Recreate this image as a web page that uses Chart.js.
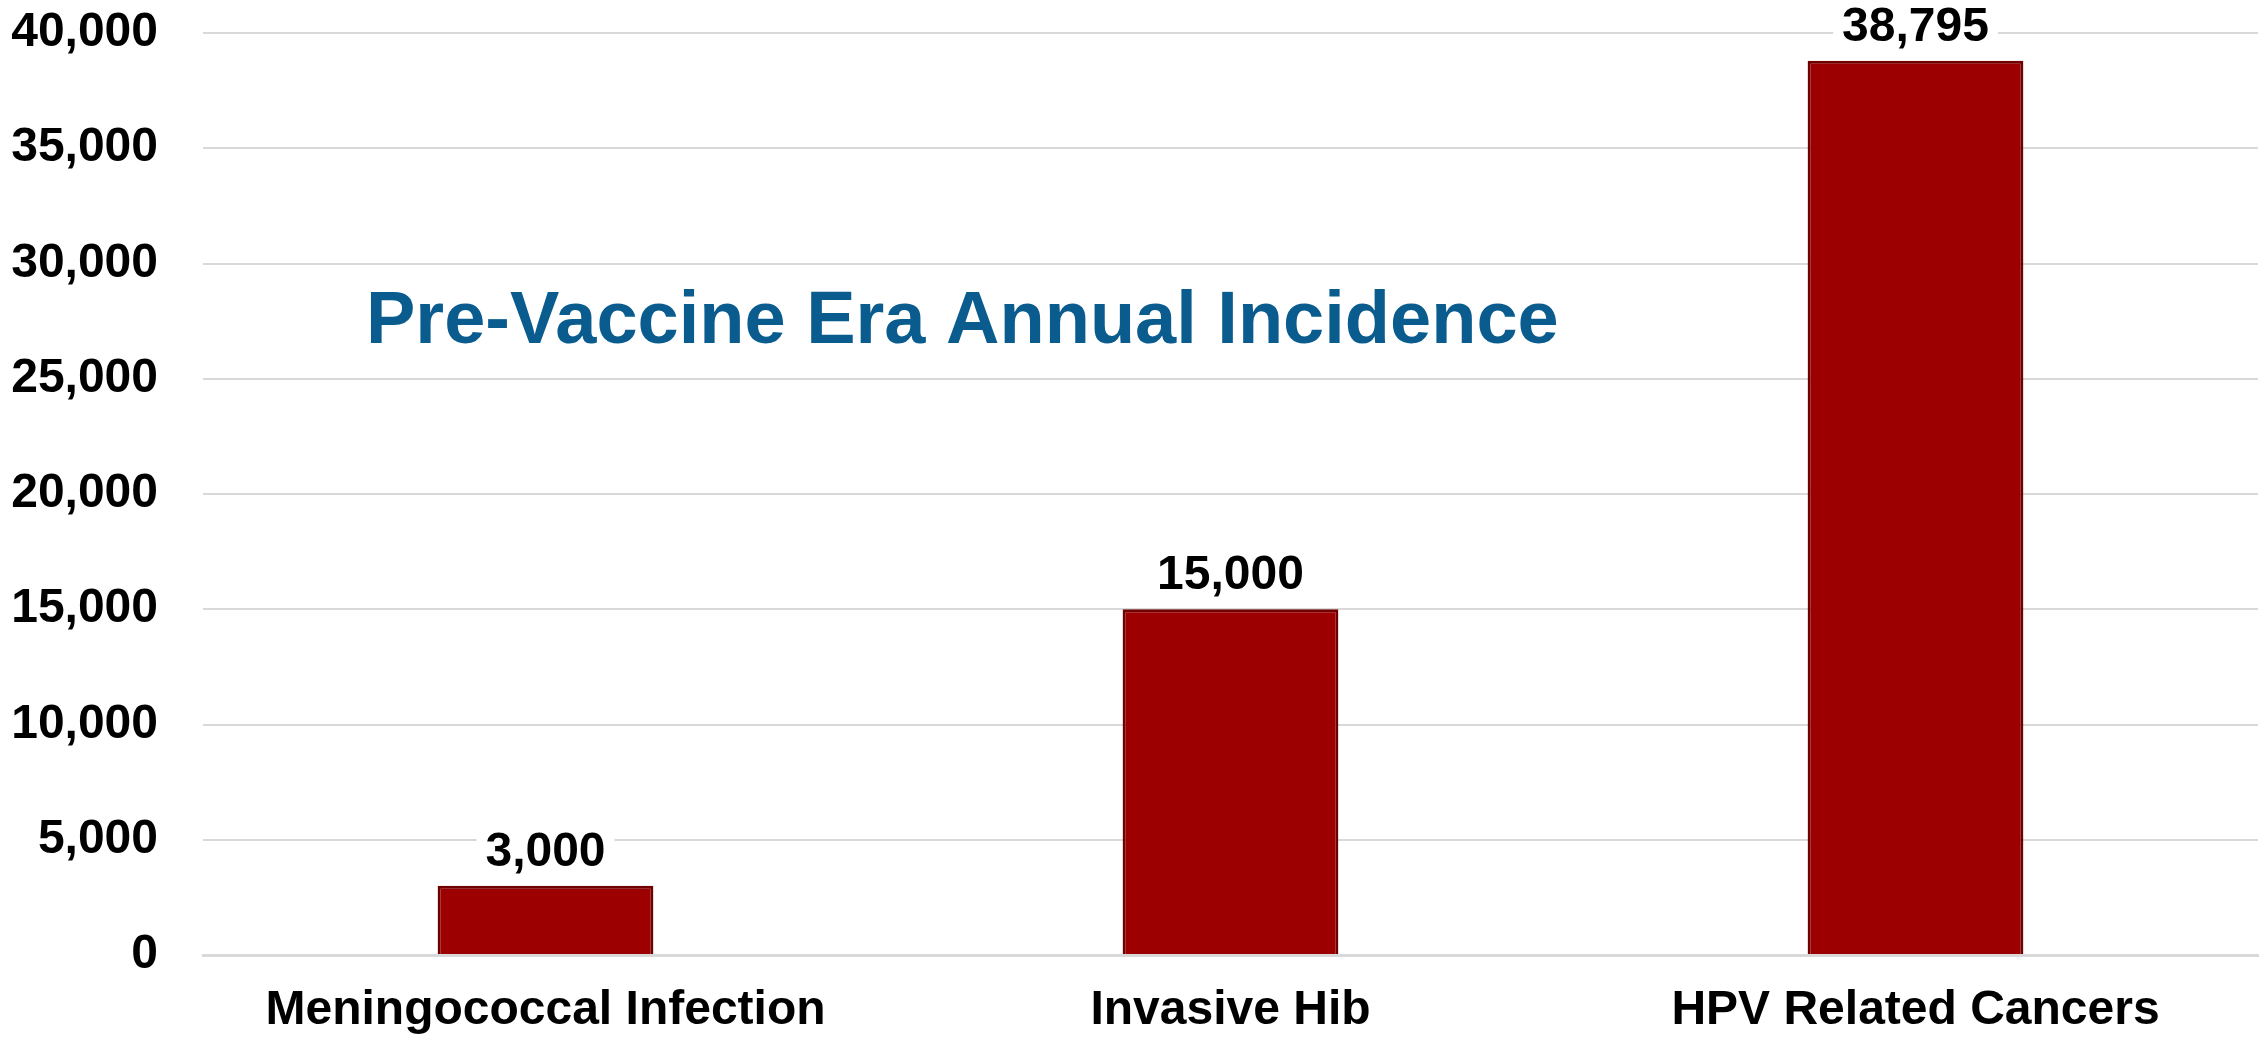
<!DOCTYPE html>
<html>
<head>
<meta charset="utf-8">
<script src="https://cdn.jsdelivr.net/npm/chart.js@4.4.1/dist/chart.umd.min.js"></script>
<style>
	html, body { margin: 0; padding: 0; background: #ffffff; overflow: hidden; }
	#myChart { display: block; }
</style>
</head>
<body>
<canvas id="myChart" width="2267" height="1037"></canvas>
<script>
// Dữ liệu biểu đồ
const categories = ['Meningococcal Infection', 'Invasive Hib', 'HPV Related Cancers'];
const incidence = [3000, 15000, 38795];
const yTicks = [0, 5000, 10000, 15000, 20000, 25000, 30000, 35000, 40000];
const chartTitle = 'Pre-Vaccine Era Annual Incidence';

const FONT = '"Liberation Sans", Arial, sans-serif';

// nhãn giá trị trên cột, có nền trắng che đường lưới
const valueLabels = {
	id: 'valueLabels',
	afterDatasetsDraw(chart) {
		const ctx = chart.ctx;
		const meta = chart.getDatasetMeta(0);
		ctx.save();
		ctx.font = 'bold 48px ' + FONT;
		ctx.textAlign = 'center';
		ctx.textBaseline = 'alphabetic';
		meta.data.forEach((bar, i) => {
			const text = incidence[i].toLocaleString('en-US');
			const w = ctx.measureText(text).width;
			const y = bar.y - 20;
			ctx.fillStyle = '#ffffff';
			ctx.fillRect(bar.x - w / 2 - 9, y - 40, w + 18, 52);
			ctx.fillStyle = '#000000';
			ctx.fillText(text, bar.x, y);
		});
		ctx.restore();
	}
};

// tiêu đề nằm trong vùng biểu đồ
const innerTitle = {
	id: 'innerTitle',
	afterDatasetsDraw(chart) {
		const ctx = chart.ctx;
		const area = chart.chartArea;
		ctx.save();
		ctx.font = 'bold 74px ' + FONT;
		ctx.fillStyle = '#0b5c8e';
		ctx.textAlign = 'left';
		ctx.textBaseline = 'alphabetic';
		ctx.fillText(chartTitle, area.left + 163, area.top + 310);
		ctx.restore();
	}
};

const ctx = document.getElementById('myChart').getContext('2d');
new Chart(ctx, {
	type: 'bar',
	data: {
		labels: categories,
		datasets: [{
			data: incidence,
			backgroundColor: '#9c0000',
			borderColor: '#700000',
			borderWidth: 3,
			borderSkipped: 'bottom',
			categoryPercentage: 1,
			barPercentage: 0.315,
		}],
	},
	options: {
		responsive: false,
		animation: false,
		devicePixelRatio: 1,
		layout: { padding: { top: 33, right: 9, left: 0, bottom: 0 } },
		plugins: {
			legend: { display: false },
			tooltip: { enabled: false },
			title: { display: false },
		},
		scales: {
			x: {
				grid: { display: false, drawTicks: false },
				border: { display: true, color: '#d9d9d9', width: 3, z: 1 },
				ticks: {
					color: '#000000',
					font: { family: FONT, size: 48, weight: 'bold' },
					padding: 27,
					maxRotation: 0,
					autoSkip: false,
				},
				afterFit: scale => {
					scale.height = 82;
					scale.paddingLeft = 0;
					scale.paddingRight = 0;
				},
			},
			y: {
				min: 0,
				max: 40000,
				afterBuildTicks: scale => { scale.ticks = yTicks.map(v => ({ value: v })); },
				grid: { color: '#d9d9d9', lineWidth: 2, drawTicks: false },
				border: { display: false },
				ticks: {
					color: '#000000',
					font: { family: FONT, size: 48, weight: 'bold' },
					padding: 45,
					callback: v => v.toLocaleString('en-US'),
				},
				afterFit: scale => {
					scale.width = 203;
					scale.paddingTop = 0;
					scale.paddingBottom = 0;
				},
			},
		},
	},
	plugins: [valueLabels, innerTitle],
});
</script>
</body>
</html>
